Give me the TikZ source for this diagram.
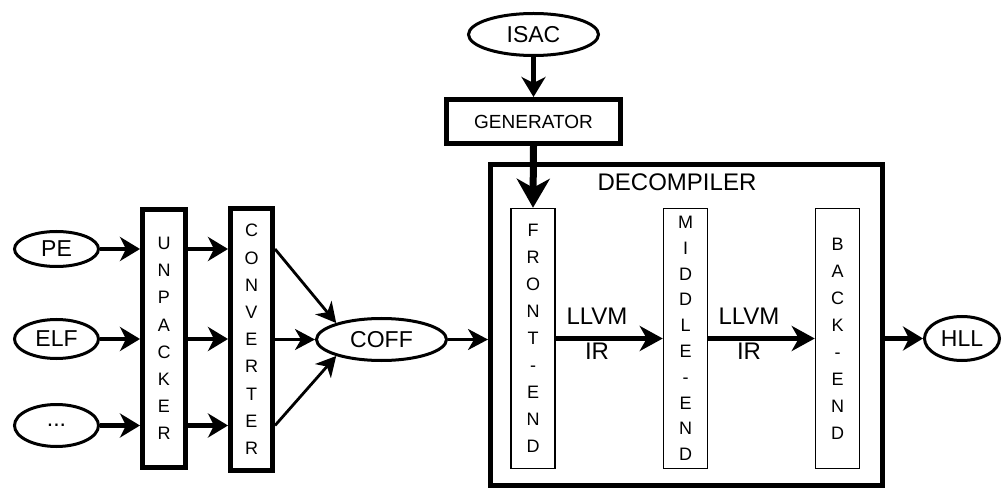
\documentclass[tikz,border=0pt]{standalone}
\usepackage{fontspec}
\setmainfont{Liberation Sans}
\usetikzlibrary{arrows.meta,shapes.geometric}

\begin{document}
\begin{tikzpicture}[x=1pt,y=-1pt,
  oval/.style={draw, ellipse, line width=3pt, inner sep=0pt,
    font=\fontsize{23}{23}\selectfont},
  stagebox/.style={draw, line width=5pt, inner sep=0pt, align=center,
    font=\fontsize{18}{27.2}\selectfont},
  phasebox/.style={draw, line width=1.5pt, inner sep=0pt, align=center,
    font=\fontsize{18}{27}\selectfont, minimum width=44pt, minimum height=260pt},
  irlabel/.style={inner sep=0pt, font=\fontsize{24}{24}\selectfont},
  flow/.style={line width=4.5pt, -{Stealth[length=20pt,width=24pt,inset=6pt]}},
  thinflow/.style={line width=2.8pt, -{Stealth[length=20pt,width=21pt,inset=6pt]}},
  heavyflow/.style={line width=7pt, -{Stealth[length=29pt,width=33pt,inset=9pt]}},
  irflow/.style={line width=5pt, -{Stealth[length=23pt,width=25pt,inset=7pt]}},
]
\useasboundingbox (0,0) rectangle (1002,489);

% input formats
\node[oval, minimum width=84pt, minimum height=35pt] (pe)   at (56.5,249) {PE};
\node[oval, minimum width=84pt, minimum height=39pt] (elf)  at (56.5,339) {ELF};
\node[oval, minimum width=84pt, minimum height=42pt] (etc)  at (56.5,425.5) {...};

% preprocessing stages
\node[stagebox, minimum width=43pt, minimum height=258pt] (unp) at (164,338.5)
  {U\\N\\P\\A\\C\\K\\E\\R};
\node[stagebox, minimum width=42pt, minimum height=262pt] (conv) at (251.5,339.5)
  {C\\O\\N\\V\\E\\R\\T\\E\\R};

% common object format
\node[oval, minimum width=130pt, minimum height=42pt] (coff) at (381.5,339.5) {COFF};

% instruction-set description and generator
\node[oval, minimum width=130pt, minimum height=42pt] (isac) at (533.5,34.5) {ISAC};
\node[draw, line width=5pt, inner sep=0pt, minimum width=174pt, minimum height=44pt,
  font=\fontsize{19}{19}\selectfont] (gen) at (533.5,121.5) {GENERATOR};

% decompiler with its three phases
\node[draw, line width=5pt, minimum width=392pt, minimum height=321pt] (dec) at (686.5,325) {};
\node[irlabel] (declabel) at (677,182.5) {DECOMPILER};
\node[phasebox] (front) at (533,338.5) {F\\R\\O\\N\\T\\-\\E\\N\\D};
\node[phasebox, font=\fontsize{18}{25.8}\selectfont] (mid) at (685.5,338.5)
  {M\\I\\D\\D\\L\\E\\-\\E\\N\\D};
\node[phasebox] (back) at (837.5,338.5) {B\\A\\C\\K\\-\\E\\N\\D};

% output
\node[oval, minimum width=75pt, minimum height=44pt] (hll) at (962,338.5) {HLL};

% IR labels
\node[irlabel] (llvmA) at (597,316.5) {LLVM};
\node[irlabel] (irA)   at (597,351.5) {IR};
\node[irlabel] (llvmB) at (749,316.5) {LLVM};
\node[irlabel] (irB)   at (749,351.5) {IR};

% connectors
\draw[flow] (pe.east)  -- (pe.east -| unp.west);
\draw[flow] (elf.east) -- (elf.east -| unp.west);
\draw[flow] (etc.east) -- (etc.east -| unp.west);
\draw[flow] (unp.east |- pe)  -- (conv.west |- pe);
\draw[flow] (unp.east |- elf) -- (conv.west |- elf);
\draw[flow] (unp.east |- etc) -- (conv.west |- etc);
\draw[thinflow] (conv.east |- pe)   -- (coff.160);
\draw[thinflow] (conv.east |- coff) -- (coff.west);
\draw[thinflow] (conv.east |- etc)  -- (coff.200);
\draw[thinflow] (coff.east) -- (coff.east -| dec.west);
\draw[flow] (isac.south) -- (gen.north);
\draw[heavyflow] (gen.south) -- (front.north);
\draw[irflow] (front.east) -- (front.east -| mid.west);
\draw[irflow] (mid.east) -- (mid.east -| back.west);
\draw[flow] (dec.east |- hll) -- (hll.west);
\end{tikzpicture}
\end{document}
